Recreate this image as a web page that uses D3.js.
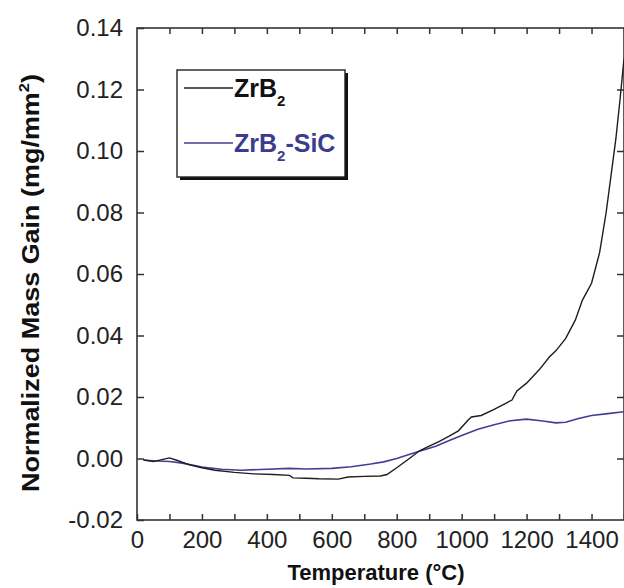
<!DOCTYPE html>
<html>
<head>
<meta charset="utf-8">
<script src="https://cdn.jsdelivr.net/npm/d3@7"></script>
<style>
  body { margin: 0; background: #fff; }
  text { font-family: "Liberation Sans", Arial, sans-serif; }
</style>
</head>
<body>
<div id="chart"></div>
<script>
// temperature (°C) and normalized mass gain (mg/mm^2)
const tempZrB2 = [20, 50, 80, 100, 120, 160, 200, 240, 300, 360, 420, 470, 480, 520, 560, 620, 650, 700, 750, 770, 800, 840, 870, 900, 930, 960, 990, 1020, 1030, 1060, 1100, 1140, 1155, 1170, 1200, 1240, 1270, 1290, 1320, 1350, 1372, 1400, 1425, 1445, 1460, 1475, 1488, 1500];
const gainZrB2 = [-0.0005, -0.001, -0.0003, 0.0002, -0.0005, -0.002, -0.003, -0.0038, -0.0045, -0.005, -0.0052, -0.0055, -0.0063, -0.0064, -0.0066, -0.0067, -0.006, -0.0058, -0.0057, -0.0052, -0.003, 0.0001, 0.0025, 0.004, 0.0055, 0.0072, 0.009, 0.0125, 0.0135, 0.014, 0.016, 0.0182, 0.019, 0.022, 0.0245, 0.029, 0.033, 0.035, 0.039, 0.045, 0.0515, 0.057, 0.067, 0.080, 0.092, 0.104, 0.117, 0.130];

const tempSiC = [20, 60, 100, 140, 200, 260, 320, 400, 470, 520, 600, 660, 720, 760, 800, 840, 880, 920, 960, 1000, 1050, 1100, 1150, 1200, 1250, 1290, 1320, 1360, 1400, 1450, 1500];
const gainSiC = [-0.0005, -0.0008, -0.001, -0.0015, -0.0028, -0.0035, -0.0038, -0.0035, -0.0032, -0.0034, -0.0032, -0.0027, -0.0018, -0.0011, 0.0, 0.0014, 0.0027, 0.004, 0.0058, 0.0075, 0.0095, 0.011, 0.0123, 0.0128, 0.0122, 0.0116, 0.0118, 0.013, 0.014, 0.0146, 0.0152];

const xTicks = d3.range(0, 1501, 100);
const yTicks = [-0.02, 0, 0.02, 0.04, 0.06, 0.08, 0.10, 0.12, 0.14];

const width = 624, height = 588;
const margin = { top: 28, right: 0, bottom: 68, left: 137 };
const innerW = width - margin.left - margin.right;
const innerH = height - margin.top - margin.bottom;

const svg = d3.select("#chart").append("svg")
    .attr("width", width)
    .attr("height", height);

const g = svg.append("g").attr("transform", `translate(${margin.left},${margin.top})`);

const x = d3.scaleLinear().domain([0, 1500]).range([0, innerW]);
const y = d3.scaleLinear().domain([-0.02, 0.14]).range([innerH, 0]);

const axisColor = "#333";

// bottom axis: inward ticks every 100, labels every 200
const xAxis = g.append("g")
    .attr("transform", `translate(0,${innerH})`)
    .call(d3.axisBottom(x).tickValues(xTicks).tickSizeInner(-6).tickSizeOuter(0).tickPadding(11)
        .tickFormat(d => d % 200 === 0 ? d : ""));
xAxis.selectAll("text").style("font-size", "24px").attr("fill", "#222");

g.append("g")
    .call(d3.axisTop(x).tickValues(xTicks.filter(d => d > 0)).tickSizeInner(-6).tickSizeOuter(0).tickFormat(""));

const yAxis = g.append("g")
    .call(d3.axisLeft(y).tickValues(yTicks).tickSizeInner(-7).tickSizeOuter(0).tickPadding(14)
        .tickFormat(d3.format(".2f")));
yAxis.selectAll("text").style("font-size", "24px").attr("fill", "#222")
    .text(d => d < 0 ? "-" + d3.format(".2f")(-d) : d3.format(".2f")(d));

g.append("g")
    .attr("transform", `translate(${innerW},0)`)
    .call(d3.axisRight(y).tickValues(yTicks.slice(1, -1)).tickSizeInner(-7).tickSizeOuter(0).tickFormat(""));

g.selectAll(".domain").remove();
g.selectAll(".tick line").attr("stroke", axisColor).attr("stroke-width", 1.5);

// frame
g.append("rect")
    .attr("x", 0).attr("y", 0)
    .attr("width", innerW).attr("height", innerH)
    .attr("fill", "none").attr("stroke", axisColor).attr("stroke-width", 1.6);

// curves
const line = d3.line().x(d => x(d[0])).y(d => y(d[1]));
const seriesZrB2 = tempZrB2.map((t, i) => [t, gainZrB2[i]]);
const seriesSiC = tempSiC.map((t, i) => [t, gainSiC[i]]);

g.append("path").datum(seriesSiC)
    .attr("d", line).attr("fill", "none")
    .attr("stroke", "#3f3f96").attr("stroke-width", 1.6);

g.append("path").datum(seriesZrB2)
    .attr("d", line).attr("fill", "none")
    .attr("stroke", "#1e1e1e").attr("stroke-width", 1.4);

// legend box with drop shadow
const lg = svg.append("g");
lg.append("rect").attr("x", 180).attr("y", 73).attr("width", 168).attr("height", 107).attr("fill", "#111");
lg.append("rect").attr("x", 177).attr("y", 70).attr("width", 168).attr("height", 107)
    .attr("fill", "#fff").attr("stroke", "#222").attr("stroke-width", 1.4);

const legendItems = [
    { color: "#1e1e1e", text: "#111", y: 88, suffix: "" },
    { color: "#3f3f96", text: "#3c3c8e", y: 143, suffix: "-SiC" }
];
legendItems.forEach(it => {
    lg.append("line").attr("x1", 184).attr("x2", 233).attr("y1", it.y).attr("y2", it.y)
        .attr("stroke", it.color).attr("stroke-width", 1.4);
    const t = lg.append("text").attr("x", 234).attr("y", it.y + 9)
        .attr("fill", it.text).style("font-size", "25px").style("font-weight", "bold");
    t.append("tspan").text("ZrB");
    t.append("tspan").attr("dy", 9).style("font-size", "15px").text("2");
    if (it.suffix) t.append("tspan").attr("dy", -9).text(it.suffix);
});

// axis titles
svg.append("text")
    .attr("x", 376).attr("y", 580)
    .attr("text-anchor", "middle")
    .style("font-size", "22px").style("font-weight", "bold").attr("fill", "#111")
    .text("Temperature (°C)");

// the original is a bit stretched along its length
const yt = svg.append("text")
    .attr("transform", "translate(39,283) rotate(-90) scale(1.1,1)")
    .attr("text-anchor", "middle")
    .style("font-size", "24.5px").style("font-weight", "bold").attr("fill", "#111");
yt.append("tspan").text("Normalized Mass Gain (mg/mm");
yt.append("tspan").attr("dy", -10).style("font-size", "15px").text("2");
yt.append("tspan").attr("dy", 10).text(")");
</script>
</body>
</html>
